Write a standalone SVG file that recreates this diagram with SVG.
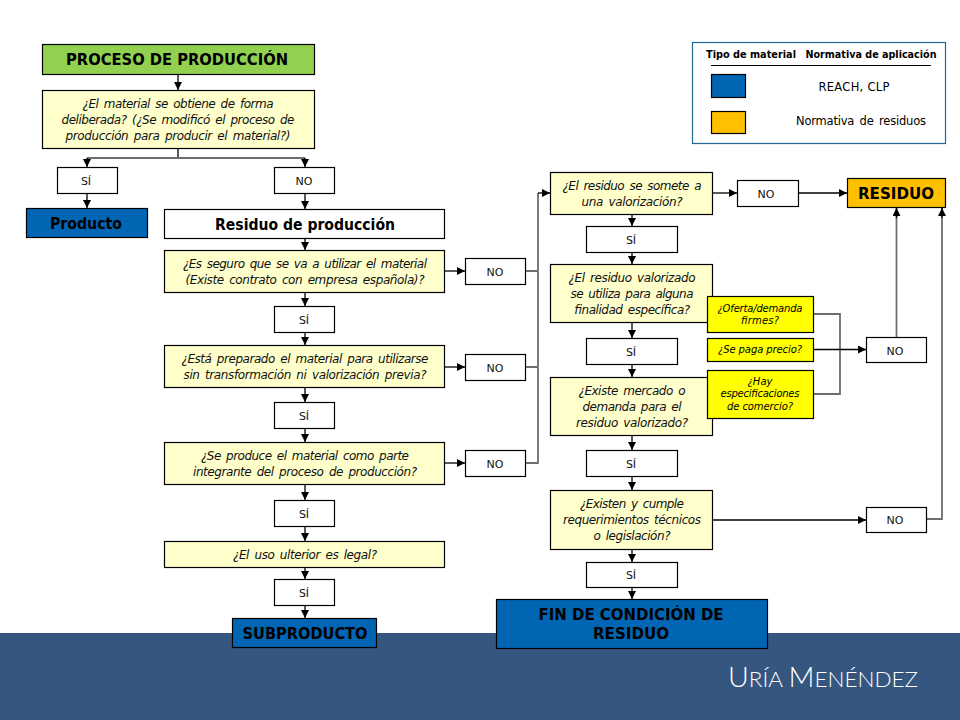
<svg xmlns="http://www.w3.org/2000/svg" width="960" height="720" viewBox="0 0 960 720">
<style>
text{font-family:"DejaVu Sans","Liberation Sans",sans-serif;text-anchor:middle;fill:#000}
.b{fill:#fff;stroke:#000;stroke-width:1.2}
.q{fill:#ffffcc;stroke:#000;stroke-width:1.2}
.y{fill:#ffff00;stroke:#000;stroke-width:1.2}
.bl{fill:#0066b3;stroke:#000;stroke-width:1.2}
.o{fill:#ffc000;stroke:#000;stroke-width:1.2}
.i{font-style:italic;font-size:12px;fill:#111;word-spacing:2px}
.s{font-style:italic;font-size:10px}
.n{font-size:11px;fill:#111}
.t{font-weight:bold}
.c{fill:none;stroke:#000;stroke-width:1.3}
.g{fill:none;stroke:#6e6e6e;stroke-width:1.8}
</style>
<defs><marker id="a" markerWidth="9" markerHeight="9" refX="8" refY="4" orient="auto" markerUnits="userSpaceOnUse"><path d="M0 0L8 4L0 8Z" fill="#000"/></marker></defs>
<rect id="footer" x="0" y="633" width="960" height="87" fill="#34567f"/>
<g id="connectors">
<path class="c" d="M178 74V90" marker-end="url(#a)"/>
<path class="c" d="M178 148V158"/>
<path class="g" d="M87 158H305"/>
<path class="c" d="M87 158V167" marker-end="url(#a)"/>
<path class="c" d="M305 158V167" marker-end="url(#a)"/>
<path class="c" d="M87 193V208" marker-end="url(#a)"/>
<path class="c" d="M305 193V209" marker-end="url(#a)"/>
<path class="c" d="M305 238V250" marker-end="url(#a)"/>
<path class="c" d="M305 292V306" marker-end="url(#a)"/>
<path class="c" d="M305 332V345" marker-end="url(#a)"/>
<path class="c" d="M305 388V402" marker-end="url(#a)"/>
<path class="c" d="M305 428V442" marker-end="url(#a)"/>
<path class="c" d="M305 484V500" marker-end="url(#a)"/>
<path class="c" d="M305 526V541" marker-end="url(#a)"/>
<path class="c" d="M305 567V579" marker-end="url(#a)"/>
<path class="c" d="M305 605V618" marker-end="url(#a)"/>
<path class="c" d="M444 271H465" marker-end="url(#a)"/>
<path class="c" d="M444 367H465" marker-end="url(#a)"/>
<path class="c" d="M444 463H465" marker-end="url(#a)"/>
<path class="g" d="M525 271H538M525 367H538M525 463H538V193"/>
<path class="c" d="M538 193H550" marker-end="url(#a)"/>
<path class="c" d="M713 193H737" marker-end="url(#a)"/>
<path class="c" d="M798 193H847" marker-end="url(#a)"/>
<path class="c" d="M632 214V226" marker-end="url(#a)"/>
<path class="c" d="M632 252V264" marker-end="url(#a)"/>
<path class="c" d="M632 322V338" marker-end="url(#a)"/>
<path class="c" d="M632 364V377" marker-end="url(#a)"/>
<path class="c" d="M632 435V450" marker-end="url(#a)"/>
<path class="c" d="M632 476V490" marker-end="url(#a)"/>
<path class="c" d="M632 549V562" marker-end="url(#a)"/>
<path class="c" d="M632 587V599" marker-end="url(#a)"/>
<path class="g" d="M813 314H840V394H813"/>
<path class="c" d="M813 349.500H866" marker-end="url(#a)"/>
<path class="c" d="M713 520H866" marker-end="url(#a)"/>
<path class="g" d="M896.500 337V208"/>
<path class="c" d="M896.500 218V208" marker-end="url(#a)"/>
<path class="g" d="M926 519H942V208"/>
<path class="c" d="M942 218V208" marker-end="url(#a)"/>
</g>
<g id="n-proceso"><rect x="42.500" y="44.500" width="272" height="30" fill="#92d050" stroke="#000" stroke-width="1.2"/><text class="t" x="177" y="65" font-size="15" textLength="222" lengthAdjust="spacingAndGlyphs">PROCESO DE PRODUCCIÓN</text></g>
<g id="n-q1"><rect class="q" x="42.500" y="90.500" width="272" height="58"/>
<text class="i" x="178" y="108" textLength="191">¿El material se obtiene de forma</text>
<text class="i" x="178" y="124" textLength="233">deliberada? (¿Se modificó el proceso de</text>
<text class="i" x="178" y="140" textLength="225">producción para producir el material?)</text></g>
<g id="n-si1"><rect class="b" x="57.500" y="167.500" width="60" height="26"/><text class="n" x="86" y="185">SÍ</text></g>
<g id="n-no1"><rect class="b" x="274.500" y="167.500" width="60" height="26"/><text class="n" x="304" y="185" font-size="11" textLength="17" lengthAdjust="spacingAndGlyphs">NO</text></g>
<g id="n-producto"><rect class="bl" x="26.500" y="208.500" width="121" height="29"/><text class="t" x="86" y="228.500" font-size="15.500" textLength="72" lengthAdjust="spacingAndGlyphs">Producto</text></g>
<g id="n-residuo-prod"><rect class="b" x="164.500" y="209.500" width="280" height="29"/><text class="t" x="305" y="229.500" font-size="15.500" textLength="180" lengthAdjust="spacingAndGlyphs">Residuo de producción</text></g>
<g id="n-q2"><rect class="q" x="164.500" y="250.500" width="280" height="42"/>
<text class="i" x="305" y="268" textLength="244">¿Es seguro que se va a utilizar el material</text>
<text class="i" x="305" y="284" textLength="239">(Existe contrato con empresa española)?</text></g>
<g id="n-no2"><rect class="b" x="465.500" y="258.500" width="60" height="26"/><text class="n" x="495" y="275.500">NO</text></g>
<g id="n-si2"><rect class="b" x="274.500" y="306.500" width="60" height="26"/><text class="n" x="304" y="323.500">SÍ</text></g>
<g id="n-q3"><rect class="q" x="164.500" y="345.500" width="280" height="42"/>
<text class="i" x="305" y="363" textLength="247">¿Está preparado el material para utilizarse</text>
<text class="i" x="305" y="379" textLength="243">sin transformación ni valorización previa?</text></g>
<g id="n-no3"><rect class="b" x="465.500" y="354.500" width="60" height="26"/><text class="n" x="495" y="371.500">NO</text></g>
<g id="n-si3"><rect class="b" x="274.500" y="402.500" width="60" height="26"/><text class="n" x="304" y="419.500">SÍ</text></g>
<g id="n-q4"><rect class="q" x="164.500" y="442.500" width="280" height="42"/>
<text class="i" x="305" y="460" textLength="208">¿Se produce el material como parte</text>
<text class="i" x="305" y="476" textLength="224">integrante del proceso de producción?</text></g>
<g id="n-no4"><rect class="b" x="465.500" y="450.500" width="60" height="26"/><text class="n" x="495" y="467.500">NO</text></g>
<g id="n-si4"><rect class="b" x="274.500" y="500.500" width="60" height="26"/><text class="n" x="304" y="517.500">SÍ</text></g>
<g id="n-q5"><rect class="q" x="164.500" y="541.500" width="280" height="26"/><text class="i" x="305" y="558.500" textLength="144">¿El uso ulterior es legal?</text></g>
<g id="n-si5"><rect class="b" x="274.500" y="579.500" width="60" height="26"/><text class="n" x="304" y="596.500">SÍ</text></g>
<g id="n-subproducto"><rect class="bl" x="232.500" y="618.500" width="144" height="29"/><text class="t" x="305" y="638.500" font-size="16" textLength="125" lengthAdjust="spacingAndGlyphs">SUBPRODUCTO</text></g>
<g id="n-r1"><rect class="q" x="550.500" y="172.500" width="162" height="42"/>
<text class="i" x="632" y="190" textLength="139">¿El residuo se somete a</text>
<text class="i" x="632" y="206" textLength="101">una valorización?</text></g>
<g id="n-no5"><rect class="b" x="737.500" y="180.500" width="61" height="26"/><text class="n" x="766" y="198">NO</text></g>
<g id="n-residuo"><rect class="o" x="847.500" y="178.500" width="98" height="29"/><text class="t" x="896" y="199" font-size="15.500" textLength="76" lengthAdjust="spacingAndGlyphs">RESIDUO</text></g>
<g id="n-si6"><rect class="b" x="586.500" y="226.500" width="91" height="26"/><text class="n" x="631" y="244">SÍ</text></g>
<g id="n-r2"><rect class="q" x="550.500" y="264.500" width="162" height="58"/>
<text class="i" x="632" y="282" textLength="127">¿El residuo valorizado</text>
<text class="i" x="632" y="298" textLength="123">se utiliza para alguna</text>
<text class="i" x="632" y="314" textLength="116">finalidad específica?</text></g>
<g id="n-si7"><rect class="b" x="586.500" y="338.500" width="91" height="26"/><text class="n" x="631" y="356">SÍ</text></g>
<g id="n-r3"><rect class="q" x="550.500" y="377.500" width="162" height="58"/>
<text class="i" x="632" y="395" textLength="107">¿Existe mercado o</text>
<text class="i" x="632" y="411" textLength="99">demanda para el</text>
<text class="i" x="632" y="427" textLength="112">residuo valorizado?</text></g>
<g id="n-si8"><rect class="b" x="586.500" y="450.500" width="91" height="26"/><text class="n" x="631" y="468">SÍ</text></g>
<g id="n-r4"><rect class="q" x="550.500" y="490.500" width="162" height="59"/>
<text class="i" x="632" y="508" textLength="104">¿Existen y cumple</text>
<text class="i" x="632" y="524" textLength="138">requerimientos técnicos</text>
<text class="i" x="632" y="540" textLength="77">o legislación?</text></g>
<g id="n-si9"><rect class="b" x="586.500" y="562.500" width="91" height="25"/><text class="n" x="631" y="579">SÍ</text></g>
<g id="n-fin"><rect class="bl" x="496.500" y="599.500" width="271" height="49"/>
<text class="t" x="631" y="619.500" font-size="15.500" textLength="185" lengthAdjust="spacingAndGlyphs">FIN DE CONDICIÓN DE</text>
<text class="t" x="631" y="638.500" font-size="15.500" textLength="76" lengthAdjust="spacingAndGlyphs">RESIDUO</text></g>
<g id="n-y1"><rect class="y" x="707.500" y="296.500" width="106" height="36"/>
<text class="s" x="760" y="312" textLength="85">¿Oferta/demanda</text>
<text class="s" x="760" y="324" textLength="38">firmes?</text></g>
<g id="n-y2"><rect class="y" x="707.500" y="338.500" width="106" height="23"/><text class="s" x="760" y="353" textLength="84">¿Se paga precio?</text></g>
<g id="n-y3"><rect class="y" x="707.500" y="370.500" width="106" height="48"/>
<text class="s" x="760" y="385" textLength="25">¿Hay</text>
<text class="s" x="760" y="397" textLength="79">especificaciones</text>
<text class="s" x="760" y="410" textLength="66">de comercio?</text></g>
<g id="n-no6"><rect class="b" x="866.500" y="337.500" width="60" height="25"/><text class="n" x="895" y="354.500">NO</text></g>
<g id="n-no7"><rect class="b" x="866.500" y="507.500" width="60" height="25"/><text class="n" x="895" y="524">NO</text></g>
<g id="legend">
<rect x="692.500" y="42.500" width="253" height="101" fill="#fff" stroke="#1f6a94" stroke-width="1.2"/>
<text x="751" y="58" font-size="10.500" font-weight="bold" textLength="90" lengthAdjust="spacingAndGlyphs">Tipo de material</text>
<text x="871" y="58" font-size="10.500" font-weight="bold" textLength="131" lengthAdjust="spacingAndGlyphs">Normativa de aplicación</text>
<path d="M711 65.500H931" stroke="#000" stroke-width="1.2"/>
<rect class="bl" x="711.500" y="74.500" width="34" height="23"/>
<rect class="o" x="711.500" y="111.500" width="34" height="22"/>
<text x="854" y="91" font-size="11.500" textLength="71">REACH, CLP</text>
<text x="861" y="125" font-size="11.500" textLength="130" style="word-spacing:2px">Normativa de residuos</text>
</g>
<text id="logo" x="823" y="686.500" style="fill:#fff;font-family:Lato,'Open Sans',sans-serif;font-weight:300" font-size="22" textLength="190" lengthAdjust="spacingAndGlyphs"><tspan font-size="28">U</tspan>RÍA <tspan font-size="28">M</tspan>ENÉNDEZ</text>
</svg>
